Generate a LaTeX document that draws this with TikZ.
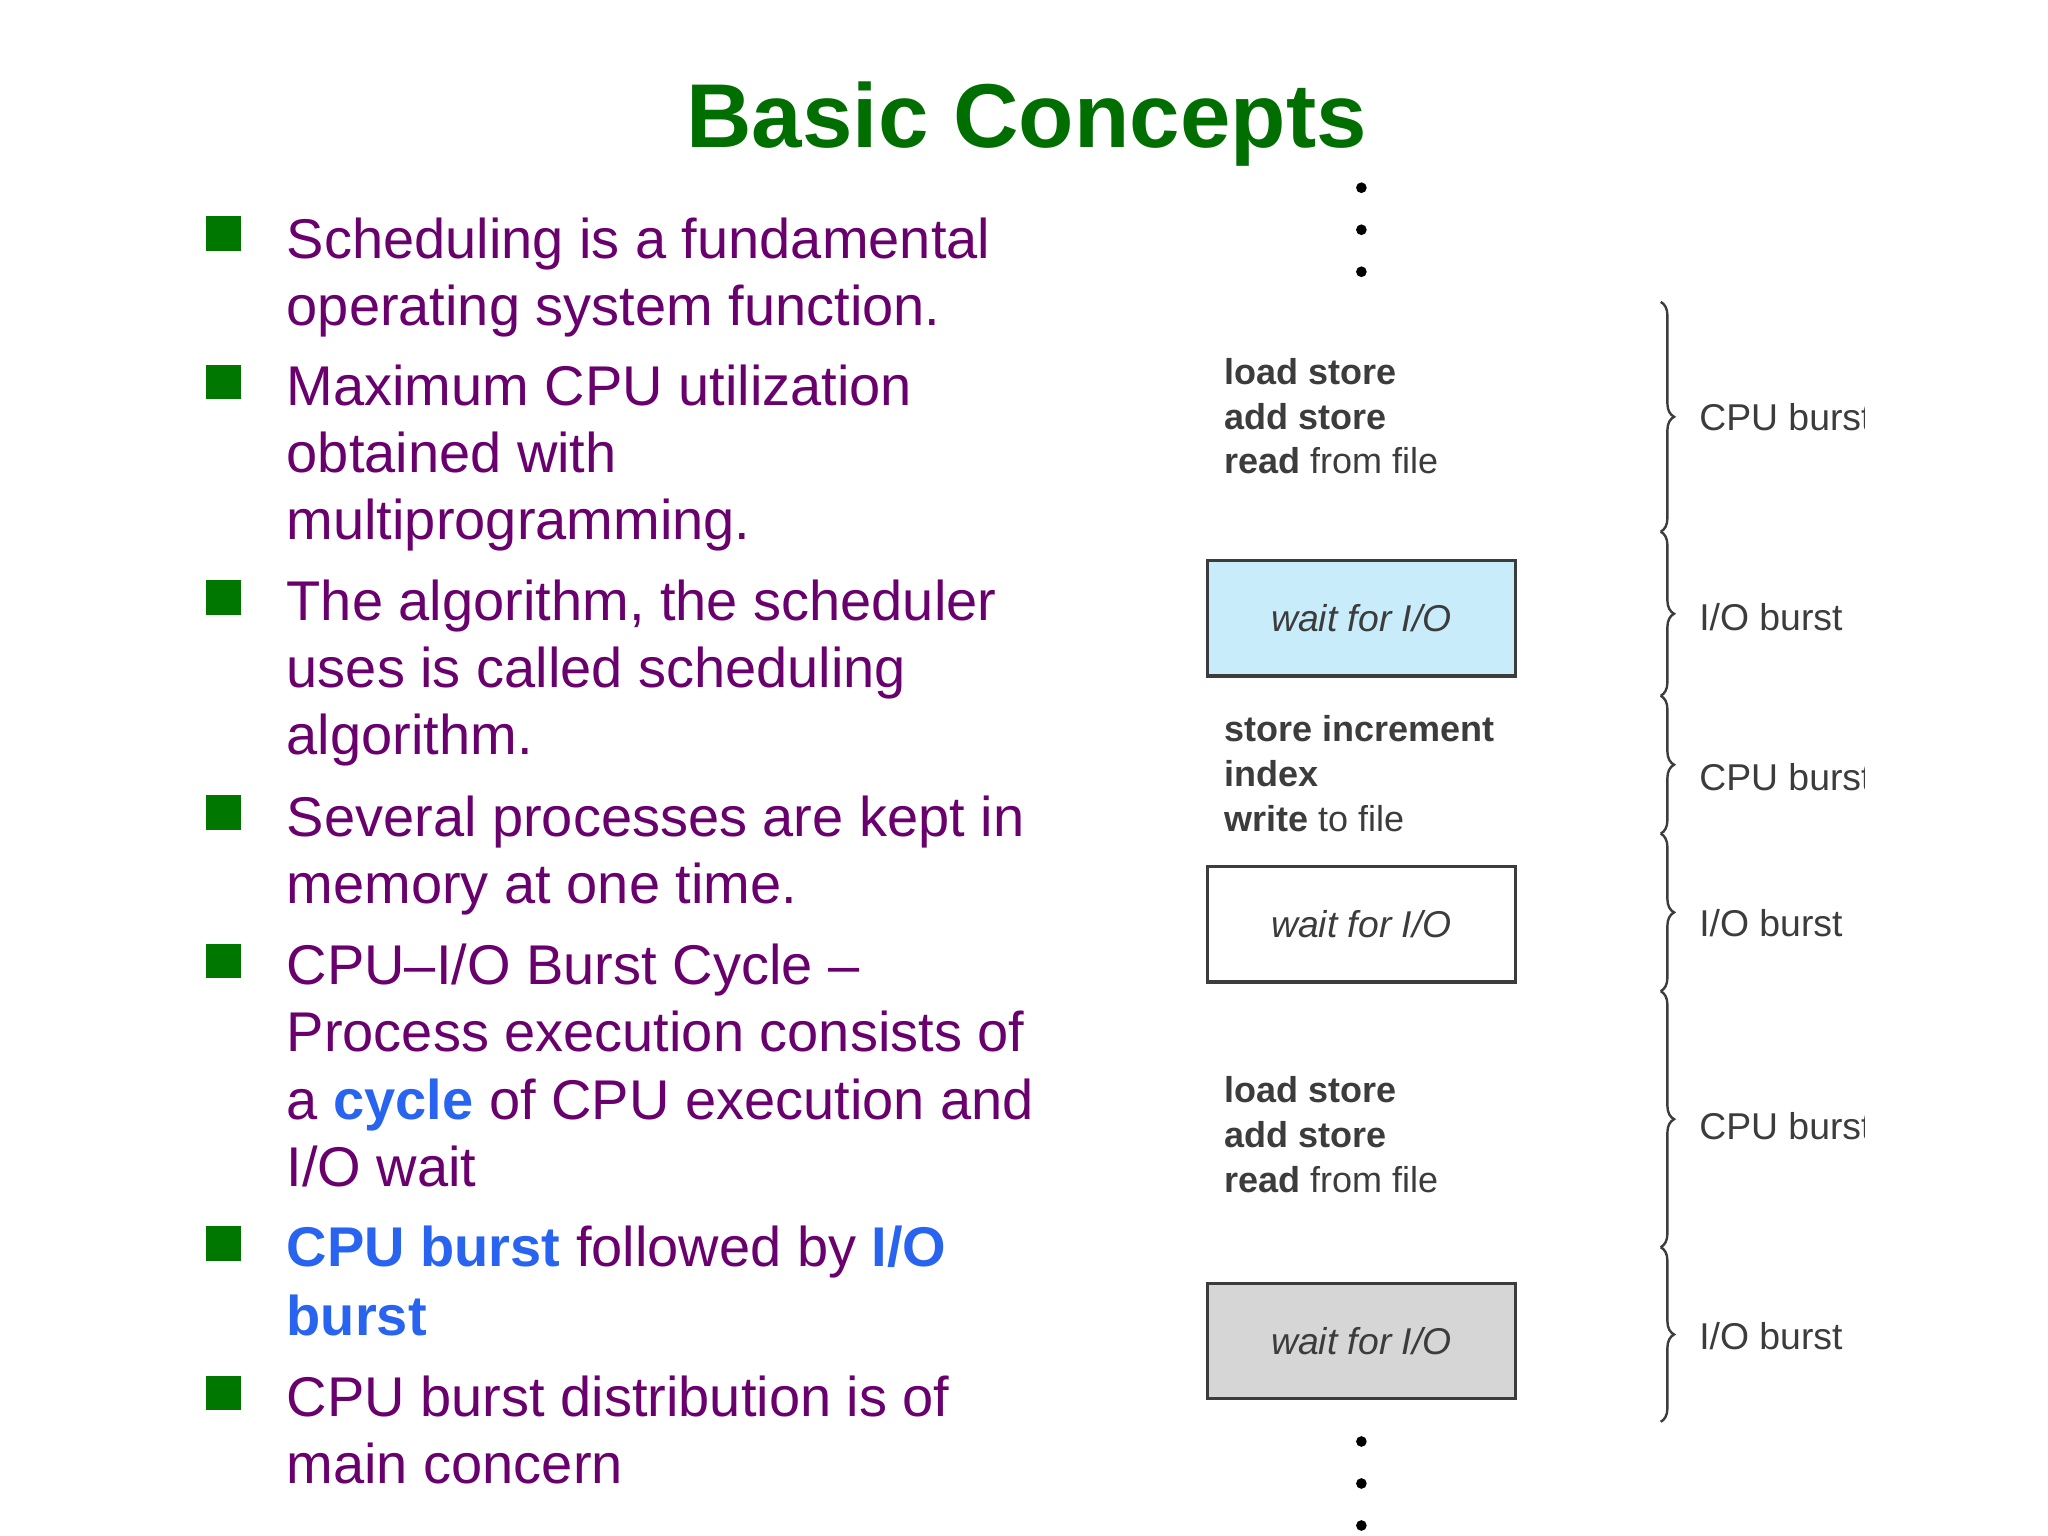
\documentclass[tikz,border=0pt]{standalone}
\usepackage{fontspec}
\setmainfont{Liberation Sans}
\usetikzlibrary{decorations.pathreplacing}
\definecolor{ttl}{RGB}{0,110,0}
\definecolor{body}{RGB}{105,0,110}
\definecolor{hl}{RGB}{40,100,240}
\definecolor{bul}{RGB}{0,120,0}
\definecolor{dg}{RGB}{60,60,60}
\definecolor{lb}{RGB}{200,236,250}
\begin{document}
\begin{tikzpicture}[x=0.4923pt,y=-0.4923pt,
  txt/.style={anchor=base west,inner sep=0pt,text=body,font=\fontsize{21}{25.6}\selectfont},
  bx/.style={fill=bul,minimum size=13pt,inner sep=0pt},
  code/.style={anchor=base west,inner sep=0pt,text=dg,font=\fontsize{13.5}{16.7}\selectfont},
  wbox/.style={draw=dg,line width=1.2pt,minimum width=115.7pt,minimum height=43.3pt,font=\itshape\fontsize{14}{16}\selectfont,text=dg},
  lab/.style={anchor=west,inner sep=0pt,text=dg,font=\fontsize{14}{16}\selectfont},
  dot/.style={circle,fill=black,inner sep=0pt,minimum size=4pt},
  br/.style={draw=dg,line width=0.9pt,decorate,decoration={brace,amplitude=5pt}}]
\useasboundingbox (0,0) rectangle (1560,1170);
\node[inner sep=0pt,anchor=base,text=ttl,font=\bfseries\fontsize{34}{40}\selectfont] (title) at (782,112) {Basic Concepts};
% bullets
\foreach \y/\n in {178/b1,291/b2,455/b3,619/b4,732/b5,947/b6,1061/b7}{\node[bx] (\n) at (170,\y) {};}
\node[txt] (l1) at (218,197) {Scheduling is a fundamental};
\node[txt] (l2) at (218,248) {operating system function.};
\node[txt] (l3) at (218,309) {Maximum CPU utilization};
\node[txt] (l4) at (218,360) {obtained with};
\node[txt] (l5) at (218,411) {multiprogramming.};
\node[txt] (l6) at (218,473) {The algorithm, the scheduler};
\node[txt] (l7) at (218,524) {uses is called scheduling};
\node[txt] (l8) at (218,575) {algorithm.};
\node[txt] (l9) at (218,637) {Several processes are kept in};
\node[txt] (l10) at (218,688) {memory at one time.};
\node[txt] (l11) at (218,750) {CPU–I/O Burst Cycle –};
\node[txt] (l12) at (218,801) {Process execution consists of};
\node[txt] (l13) at (218,853) {a \textcolor{hl}{\bfseries cycle} of CPU execution and};
\node[txt] (l14) at (218,904) {I/O wait};
\node[txt] (l15) at (218,965) {\textcolor{hl}{\bfseries CPU burst} followed by \textcolor{hl}{\bfseries I/O}};
\node[txt] (l16) at (218,1017) {\textcolor{hl}{\bfseries burst}};
\node[txt] (l17) at (218,1079) {CPU burst distribution is of};
\node[txt] (l18) at (218,1130) {main concern};
% dots
\foreach \y/\n in {143/d1,175/d2,207/d3,1098/d4,1130/d5,1162/d6}{\node[dot] (\n) at (1037,\y) {};}
% code
\node[code] (c1) at (932,293) {\bfseries load store};
\node[code] (c2) at (932,327) {\bfseries add store};
\node[code] (c3) at (932,361) {\textbf{read} from file};
\node[code] (c4) at (932,565) {\bfseries store increment};
\node[code] (c5) at (932,599) {\bfseries index};
\node[code] (c6) at (932,633) {\textbf{write} to file};
\node[code] (c7) at (932,840) {\bfseries load store};
\node[code] (c8) at (932,874) {\bfseries add store};
\node[code] (c9) at (932,908) {\textbf{read} from file};
\node[wbox,fill=lb] (w1) at (1037,471) {wait for I/O};
\node[wbox,fill=white] (w2) at (1037,704) {wait for I/O};
\node[wbox,fill=black!16] (w3) at (1037,1021.5) {wait for I/O};
% braces
\foreach \a/\b/\n in {230/405/p1,405/530/p2,530/635/p3,635/755/p4,755/950/p5,950/1083/p6}{
  \coordinate (\n a) at (1265,\a); \coordinate (\n b) at (1265,\b);
  \draw[br] (\n a) -- (\n b);}
\begin{scope}
\clip (1275,0) rectangle (1420,1170);
\node[lab] (t1) at (1294,318) {CPU burst};
\node[lab] (t2) at (1294,470) {I/O burst};
\node[lab] (t3) at (1294,592) {CPU burst};
\node[lab] (t4) at (1294,703) {I/O burst};
\node[lab] (t5) at (1294,858) {CPU burst};
\node[lab] (t6) at (1294,1018) {I/O burst};
\end{scope}
\end{tikzpicture}
\end{document}
